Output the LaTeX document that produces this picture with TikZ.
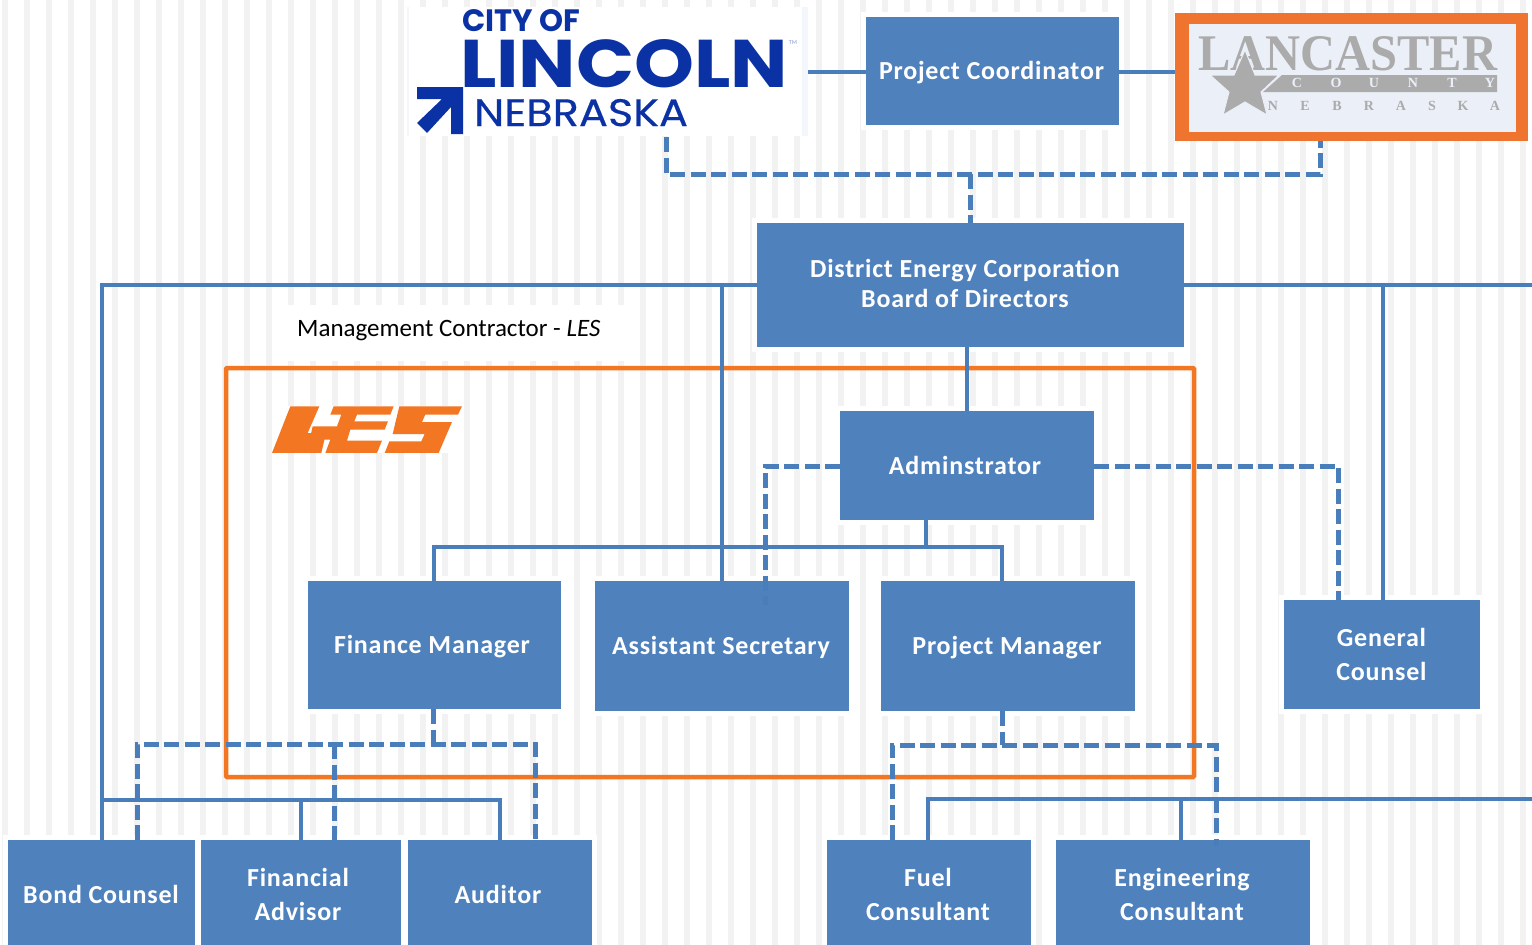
\documentclass[tikz,border=0pt]{standalone}
\usepackage{fontspec}
\setmainfont{Carlito}
\newfontfamily\boxfont{Carlito}[LetterSpace=3]
\newfontfamily\logofont{Poppins}
\newfontfamily\logothin{Poppins}[FakeBold=0.4]
\newfontfamily\countyfont{Liberation Serif}
\usetikzlibrary{positioning}

\definecolor{boxblue}{HTML}{4F81BD}
\definecolor{lineblue}{HTML}{4A7EBB}
\definecolor{lesorange}{HTML}{F37623}
\definecolor{frameorange}{HTML}{EE7430}
\definecolor{stripegray}{HTML}{F2F2F2}
\definecolor{cityblue}{HTML}{0A32A5}
\definecolor{countygray}{HTML}{ABABAB}
\definecolor{countybg}{HTML}{EBF0F8}

\tikzset{
  orgbox/.style={rectangle, fill=boxblue, text=white, align=center, font=\fontsize{26}{34}\boxfont\bfseries,
                 inner sep=0pt, outer sep=0pt, preaction={draw=white, line width=10pt}},
  solidline/.style={draw=lineblue, line width=4.5pt},
  dashline/.style={draw=lineblue, line width=5pt, dash pattern=on 15pt off 5.5pt},
  logotext/.style={inner sep=0pt, outer sep=0pt, anchor=base west, text=cityblue},
  countyletter/.style={inner sep=0pt, outer sep=0pt, font=\fontsize{14}{14}\selectfont\countyfont\bfseries}
}
\newcommand{\fitwidth}[3]{\resizebox{#1pt}{#2pt}{#3}}
% box text moved from the centre of its box (right, down)
\newcommand{\boxtext}[3]{\raisebox{\dimexpr-#2pt-8pt\relax}[0pt][0pt]{\makebox[0pt]{\hspace{#1pt}\begin{tabular}{@{}c@{}}#3\end{tabular}}}}

\begin{document}
\begin{tikzpicture}[x=1pt,y=-1pt]
  \useasboundingbox (0,0) rectangle (1532,945);
  \fill[white] (0,0) rectangle (1532,945);

  % background stripes
  \foreach \i in {0,...,69}
    \fill[stripegray] ({2+22*\i},0) rectangle ({8+22*\i},945);
  \fill[white] (288,305) rectangle (625,361);

  % logos
  \fill[white] (407,7) rectangle (808,136);
  \fill[countybg!60] (407,7) rectangle (409,136);
  \fill[countybg!60] (802,7) rectangle (808,136);
  \fill[cityblue] (417,87) -- (463,87) -- (463,134) -- (451,134) -- (451,107) -- (427,133)
                  -- (417,123) -- (442,99) -- (417,99) -- cycle;
  \node[logotext] (city) at (462,31) {\fitwidth{118}{22}{\logofont\bfseries CITY OF}};
  \node[logotext] (lincoln) at (460,87) {\fitwidth{328}{48}{\logofont\bfseries LINCOLN}};
  \node[logotext] (nebraska) at (474,126) {\fitwidth{214}{27}{\logothin NEBRASKA}};
  \node[inner sep=0pt, text=cityblue!50, font=\fontsize{6}{6}\selectfont] (tm) at (793,43) {TM};

  \fill[frameorange] (1175,13) rectangle (1528,141);
  \fill[countybg] (1189,24) rectangle (1516,132);
  \node[inner sep=0pt, anchor=base west, text=countygray] (lancaster) at (1198,70)
    {\fitwidth{299}{34}{\countyfont\bfseries LANCASTER}};
  \fill[countygray] (1282,75) -- (1497,75) -- (1497,92) -- (1263,92) -- cycle;
  \fill[countygray,draw=countybg,line width=1pt] (1245,50) -- (1255,75) -- (1279,75) -- (1261,92) -- (1267,115)
                    -- (1245,102) -- (1223,115) -- (1229,92) -- (1210,75) -- (1234,75) -- cycle;
  \foreach \c/\px in {C/1297,O/1336,U/1374,N/1413,T/1452,Y/1490}
    \node[countyletter, text=countybg] at (\px,83) {\c};
  \foreach \c/\px in {N/1273,E/1305,B/1337,R/1369,A/1401,S/1432,K/1463,A/1495}
    \node[countyletter, text=countygray] at (\px,106) {\c};

  % les mark, in pixels of a crop three times as large
  \fill[white] (272,406) rectangle (462,453);
  \begin{scope}[shift={(262,398)},scale=0.3333]
    \fill[lesorange] (85,25) -- (172,25) -- (137,105) -- (192,105) -- (178,165) -- (30,165) -- cycle;
    \fill[lesorange] (215,25) -- (395,25) -- (385,50) -- (285,50) -- (277,70) -- (378,70) -- (368,95)
                     -- (265,95) -- (255,128) -- (360,128) -- (345,165) -- (190,165) -- (205,125)
                     -- (143,125) -- (152,85) -- (225,85) -- (238,50) -- (205,50) -- cycle;
    \fill[lesorange] (412,25) -- (600,25) -- (588,50) -- (490,50) -- (480,72) -- (570,72) -- (530,165)
                     -- (368,165) -- (382,130) -- (478,130) -- (488,108) -- (392,108) -- cycle;
  \end{scope}

  % contractor frame and its label
  \draw[lesorange, line width=4.5pt, rounded corners=1pt] (226,368) rectangle (1194,777);
  \node[inner sep=0pt, anchor=base west, font=\fontsize{25}{25}\selectfont] (mgmt) at (297,336)
    {Management Contractor - \textit{LES}};

  % boxes
  \node[orgbox, minimum width=253pt, minimum height=108pt] (coord) at (992.5,71) {\boxtext{-2}{0}{Project Coordinator}};
  \node[orgbox, minimum width=427pt, minimum height=124pt] (board) at (970.5,285)
    {\boxtext{-11}{-1}{District Energy Corporation\\[-4pt]Board of Directors}};
  \node[orgbox, minimum width=254pt, minimum height=109pt] (admin) at (967,465.5) {\boxtext{-4}{0}{Adminstrator}};
  \node[orgbox, minimum width=253pt, minimum height=128pt] (finance) at (434.5,645) {\boxtext{-5}{0}{Finance Manager}};
  \node[orgbox, minimum width=254pt, minimum height=130pt] (asst) at (722,646) {\boxtext{-2}{0}{Assistant Secretary}};
  \node[orgbox, minimum width=254pt, minimum height=130pt] (pm) at (1008,646) {\boxtext{-2}{0}{Project Manager}};
  \node[orgbox, minimum width=196pt, minimum height=109pt] (gc) at (1382,654.5) {\boxtext{-1}{0}{General\\Counsel}};
  \node[orgbox, minimum width=187pt, minimum height=105pt] (bond) at (101.5,892.5) {\boxtext{-1}{2}{Bond Counsel}};
  \node[orgbox, minimum width=200pt, minimum height=105pt] (advisor) at (301,892.5) {\boxtext{-6}{2}{Financial\\Advisor}};
  \node[orgbox, minimum width=184pt, minimum height=105pt] (auditor) at (500,892.5) {\boxtext{-4}{2}{Auditor}};
  \node[orgbox, minimum width=204pt, minimum height=105pt] (fuel) at (929,892.5) {\boxtext{-2}{2}{Fuel\\Consultant}};
  \node[orgbox, minimum width=254pt, minimum height=105pt] (eng) at (1183,892.5) {\boxtext{-2}{2}{Engineering\\Consultant}};

  % free ends of the connectors
  \coordinate (lincolnright) at (808,72);
  \coordinate (lincolnbot) at (666,137);
  \coordinate (countyleft) at (1175,72);
  \coordinate (countybot) at (1320,141);
  \coordinate (offtop) at (1532,285);
  \coordinate (offbot) at (1532,799);

  % solid lines
  \path[solidline]
    (lincolnright) edge (coord.west |- lincolnright)
    (coord.east |- countyleft) edge (countyleft)
    (board.south -| 967,0) edge (admin.north -| 967,0)
    (board.east |- 0,285) edge (offtop)
    (1383,285) edge (gc.north -| 1383,0)
    (722,285) edge (asst.north -| 722,0)
    (admin.south -| 926,0) edge (926,547)
    (301,800) edge (advisor.north -| 301,0)
    (1181,799) edge (eng.north -| 1181,0);
  \draw[solidline] (board.west |- 0,285) -- (102,285) -- (bond.north -| 102,0);
  \draw[solidline] (finance.north -| 434,0) -- (434,547) -- (1002,547) -- (pm.north -| 1002,0);
  \draw[solidline] (102,800) -- (500,800) -- (auditor.north -| 500,0);
  \draw[solidline] (fuel.north -| 928,0) -- (928,799) -- (offbot);

  % dashed lines
  \draw[dashline] (lincolnbot) -- (666,174) -- (1320,174) -- (countybot);
  \draw[dashline] (970,174) -- (board.north -| 970,0);
  \draw[dashline] (admin.west |- 0,466) -- (765,466) -- (765,605);
  \draw[dashline] (admin.east |- 0,466) -- (1338,466) -- (gc.north -| 1338,0);
  \draw[dashline] (finance.south -| 433,0) -- (433,744);
  \draw[dashline] (137,840) -- (137,744) -- (535,744) -- (535,846);
  \draw[dashline] (334,744) -- (advisor.north -| 334,0);
  \draw[dashline] (pm.south -| 1002,0) -- (1002,745);
  \draw[dashline] (fuel.north -| 892,0) -- (892,745) -- (1216,745) -- (1216,846);
\end{tikzpicture}
\end{document}
